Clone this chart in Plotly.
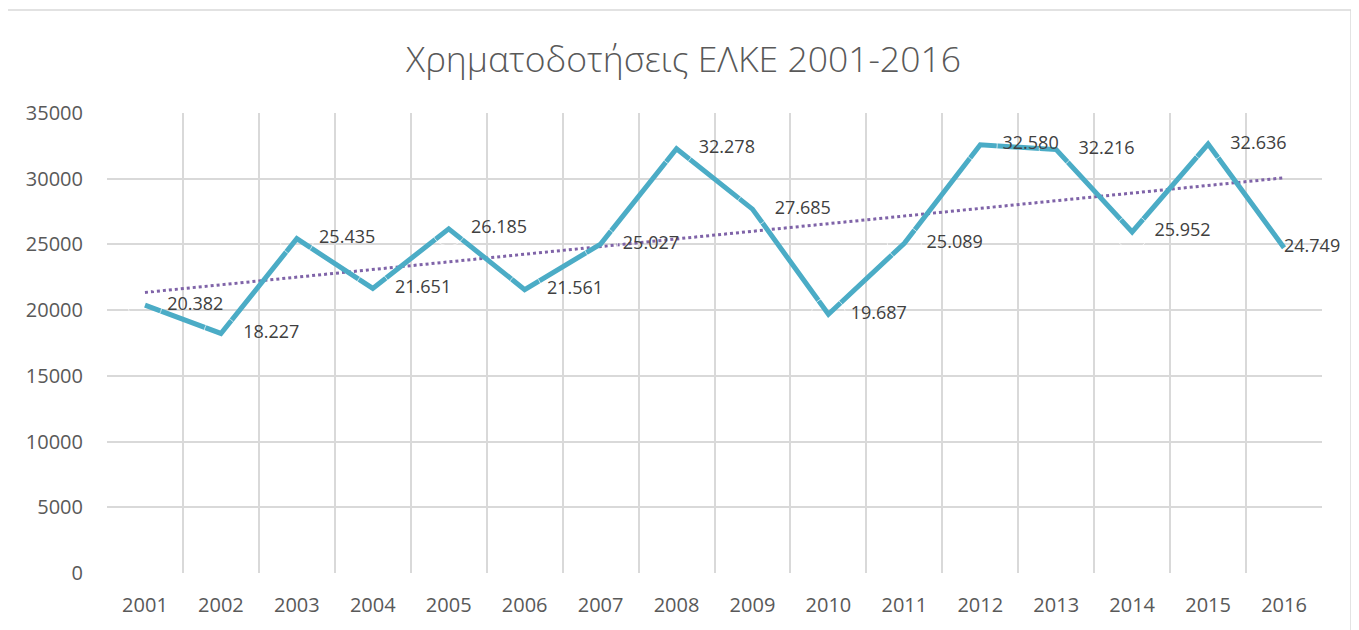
import numpy as np
import plotly.graph_objects as go

# Data
years = ['2001', '2002', '2003', '2004', '2005', '2006', '2007', '2008',
         '2009', '2010', '2011', '2012', '2013', '2014', '2015', '2016']
funding = [20382, 18227, 25435, 21651, 26185, 21561, 25027, 32278,
           27685, 19687, 25089, 32580, 32216, 25952, 32636, 24749]
y_ticks = [0, 5000, 10000, 15000, 20000, 25000, 30000, 35000]

# Greek-style thousands separator for the data labels
labels = [f'{v:,}'.replace(',', '.') for v in funding]

# Linear trendline (least squares, like Excel's)
idx = np.arange(len(years))
slope, intercept = np.polyfit(idx, funding, 1)
trend = slope * idx + intercept

FONT = 'Open Sans, Noto Sans, sans-serif'

# invisible marker sizes set how far each label sits from its point;
# the last one is pulled in so it stays inside the chart
label_gap = [34] * (len(years) - 1) + [0]

fig = go.Figure()

fig.add_trace(go.Scatter(
    x=years, y=trend,
    mode='lines',
    line=dict(color='#7F63A8', width=3, dash='dot'),
    hoverinfo='skip',
    showlegend=False
))

fig.add_trace(go.Scatter(
    x=years, y=funding,
    mode='lines',
    line=dict(color='#4BACC6', width=5),
    showlegend=False
))

fig.add_trace(go.Scatter(
    x=years, y=funding,
    mode='markers+text',
    text=labels,
    textposition='middle right',
    textfont=dict(family=FONT, size=18, color='#404040'),
    marker=dict(size=label_gap, color='rgba(0,0,0,0)'),
    cliponaxis=False,
    hoverinfo='skip',
    showlegend=False
))

# Light grey border around the whole chart
fig.add_shape(
    type='rect', xref='paper', yref='paper',
    x0=-0.0831, x1=1.0239, y0=-0.3, y1=1.2239,
    line=dict(color='#D9D9D9', width=1.5),
    layer='below'
)

# the page body adds an 8px margin, so the figure is 8px smaller
fig.update_layout(
    title=dict(
        text='Χρηματοδοτήσεις ΕΛΚΕ 2001-2016',
        x=0.5, xref='container', y=0.9164, yanchor='middle',
        font=dict(family=FONT, size=35.5, color='#595959', weight=300)
    ),
    width=1351, height=622,
    margin=dict(l=99, r=37, t=105, b=57),
    paper_bgcolor='white',
    plot_bgcolor='white',
    font=dict(family=FONT, size=20, color='#595959'),
    xaxis=dict(
        type='category',
        tickson='boundaries',
        range=[-0.5, 15.5],
        showgrid=True, gridcolor='#D9D9D9', gridwidth=1.5,
        ticks='', showline=False, zeroline=False,
        automargin=False,
        ticklabelstandoff=18,
        tickfont=dict(size=20, color='#595959')
    ),
    yaxis=dict(
        range=[0, 35000],
        tickvals=y_ticks,
        ticktext=[str(v) for v in y_ticks],
        showgrid=True, gridcolor='#D9D9D9', gridwidth=1.5,
        zeroline=False, showline=False, ticks='',
        automargin=False,
        ticklabelstandoff=23,
        tickfont=dict(size=20, color='#595959')
    )
)

fig.write_html('out.html')
